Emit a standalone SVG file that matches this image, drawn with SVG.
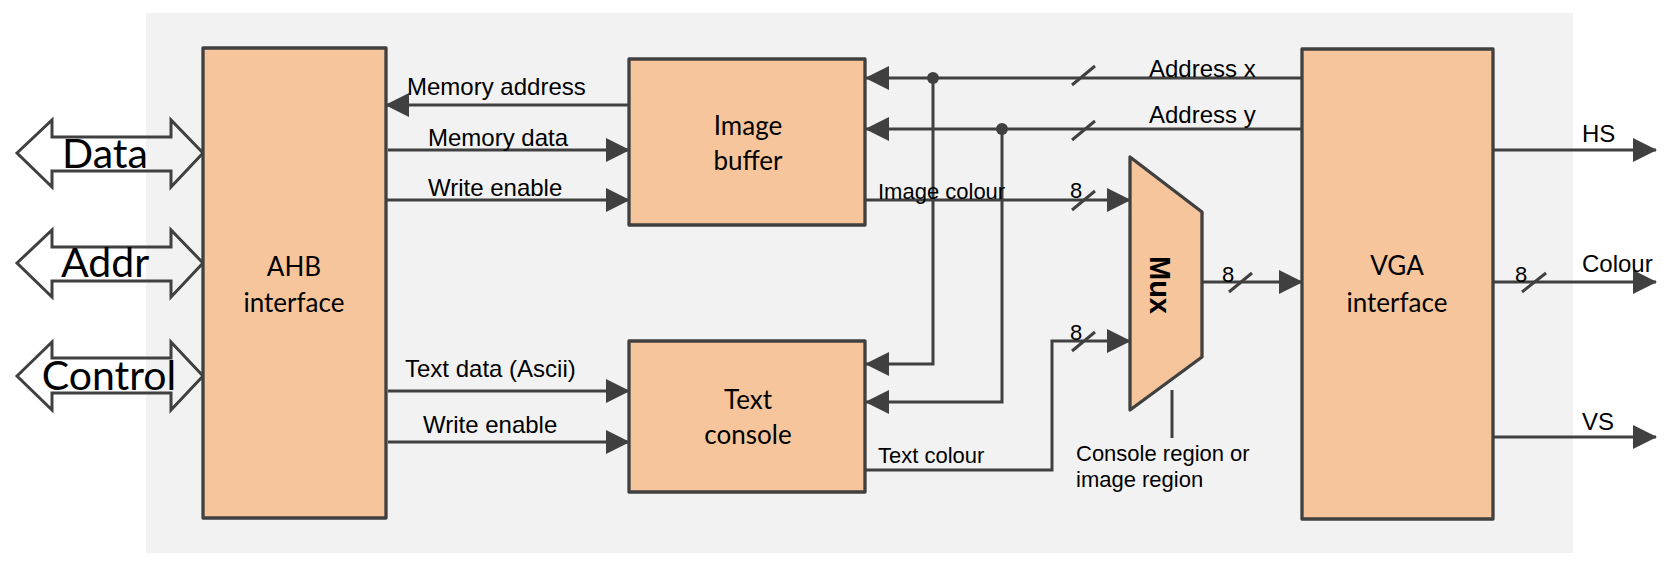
<svg xmlns="http://www.w3.org/2000/svg" width="1671" height="562" viewBox="0 0 1671 562">
<defs>
<marker id="arr" markerUnits="userSpaceOnUse" markerWidth="24" markerHeight="24" refX="23" refY="12" orient="auto">
<path d="M0,0 L24,12 L0,24 z" fill="#404040"/>
</marker>
<style>
.box{fill:#F7C59B;stroke:#404040;stroke-width:3.3;stroke-linejoin:round}
.bus{fill:none;stroke:#404040;stroke-width:3;stroke-linejoin:miter}
.ln{fill:none;stroke:#404040;stroke-width:3}
.ar{marker-end:url(#arr)}
.lbl{font-family:"Liberation Sans",Arial,sans-serif;font-size:24px;fill:#000}
.sm{font-size:22px}
.nt{font-family:Lato,"Open Sans",sans-serif;font-size:26px;fill:#000;text-anchor:middle}
.big{font-family:Lato,"Open Sans",sans-serif;font-size:41px;fill:#000;text-anchor:middle}
</style>
</defs>
<rect x="146" y="13" width="1427" height="540" fill="#F2F2F2"/>

<g id="ports">
<polygon class="bus" points="17,153 52,120 52,137 171,137 171,120 203,153 171,187 171,171 52,171 52,187"/>
<polygon class="bus" points="17,263 52,230 52,247 171,247 171,230 203,263 171,297 171,281 52,281 52,297"/>
<polygon class="bus" points="17,376 52,342 52,358 171,358 171,342 203,376 171,410 171,393 52,393 52,410"/>
<text class="big" x="105" y="168">Data</text>
<text class="big" x="105" y="277">Addr</text>
<text class="big" x="109" y="390">Control</text>
</g>

<g id="connectors">
<path class="ln ar" d="M629,105 H386"/>
<path class="ln ar" d="M388,150 H629"/>
<path class="ln ar" d="M386,200 H629"/>
<path class="ln ar" d="M388,391 H629"/>
<path class="ln ar" d="M388,442 H629"/>
<path class="ln ar" d="M1302,78 H866"/>
<path class="ln ar" d="M1302,129 H866"/>
<path class="ln ar" d="M933,78 V364 H866"/>
<path class="ln ar" d="M1002,129 V402 H866"/>
<circle cx="933" cy="78" r="6" fill="#404040"/>
<circle cx="1002" cy="129" r="6" fill="#404040"/>
<path class="ln ar" d="M865,200 H1130"/>
<path class="ln ar" d="M865,470 H1052 V341 H1130"/>
<path class="ln ar" d="M1202,282 H1302"/>
<path class="ln" d="M1172,390 V438"/>
<path class="ln ar" d="M1493,150 H1656"/>
<path class="ln ar" d="M1493,282 H1656"/>
<path class="ln ar" d="M1493,437 H1656"/>
<g class="ln">
<path d="M1072,85 L1095,66"/>
<path d="M1072,140 L1095,121"/>
<path d="M1072,210 L1095,191"/>
<path d="M1072,351 L1095,332"/>
<path d="M1229,292 L1252,273"/>
<path d="M1522,292 L1546,273"/>
</g>
<text class="lbl" x="407" y="95">Memory address</text>
<text class="lbl" x="428" y="146">Memory data</text>
<text class="lbl" x="428" y="196">Write enable</text>
<text class="lbl" x="405" y="377">Text data (Ascii)</text>
<text class="lbl" x="423" y="433">Write enable</text>
<text class="lbl" x="1149" y="77">Address x</text>
<text class="lbl" x="1149" y="123">Address y</text>
<text class="lbl sm" x="878" y="199">Image colour</text>
<text class="lbl sm" x="878" y="463">Text colour</text>
<text class="lbl sm" x="1070" y="198">8</text>
<text class="lbl sm" x="1070" y="340">8</text>
<text class="lbl sm" x="1222" y="282">8</text>
<text class="lbl sm" x="1515" y="282">8</text>
<text class="lbl sm" x="1076" y="461">Console region or</text>
<text class="lbl sm" x="1076" y="487">image region</text>
<text class="lbl" x="1582" y="142">HS</text>
<text class="lbl" x="1582" y="272">Colour</text>
<text class="lbl" x="1582" y="430">VS</text>
</g>

<g id="ahb">
<rect class="box" x="203" y="48" width="183" height="470"/>
<text class="nt" x="294" y="276">AHB</text>
<text class="nt" x="294" y="312">interface</text>
</g>
<g id="imagebuffer">
<rect class="box" x="629" y="59" width="236" height="166"/>
<text class="nt" x="748" y="135">Image</text>
<text class="nt" x="748" y="170">buffer</text>
</g>
<g id="textconsole">
<rect class="box" x="629" y="341" width="236" height="151"/>
<text class="nt" x="748" y="409">Text</text>
<text class="nt" x="748" y="444">console</text>
</g>
<g id="mux">
<polygon class="box" points="1130,157 1202,212 1202,357 1130,410"/>
<text transform="translate(1160,285) rotate(90)" text-anchor="middle" dy="0.35em" style="font-family:'Liberation Sans',Arial,sans-serif;font-size:29px;font-weight:bold">Mux</text>
</g>
<g id="vga">
<rect class="box" x="1302" y="49" width="191" height="470"/>
<text class="nt" x="1397" y="275">VGA</text>
<text class="nt" x="1397" y="312">interface</text>
</g>
</svg>
